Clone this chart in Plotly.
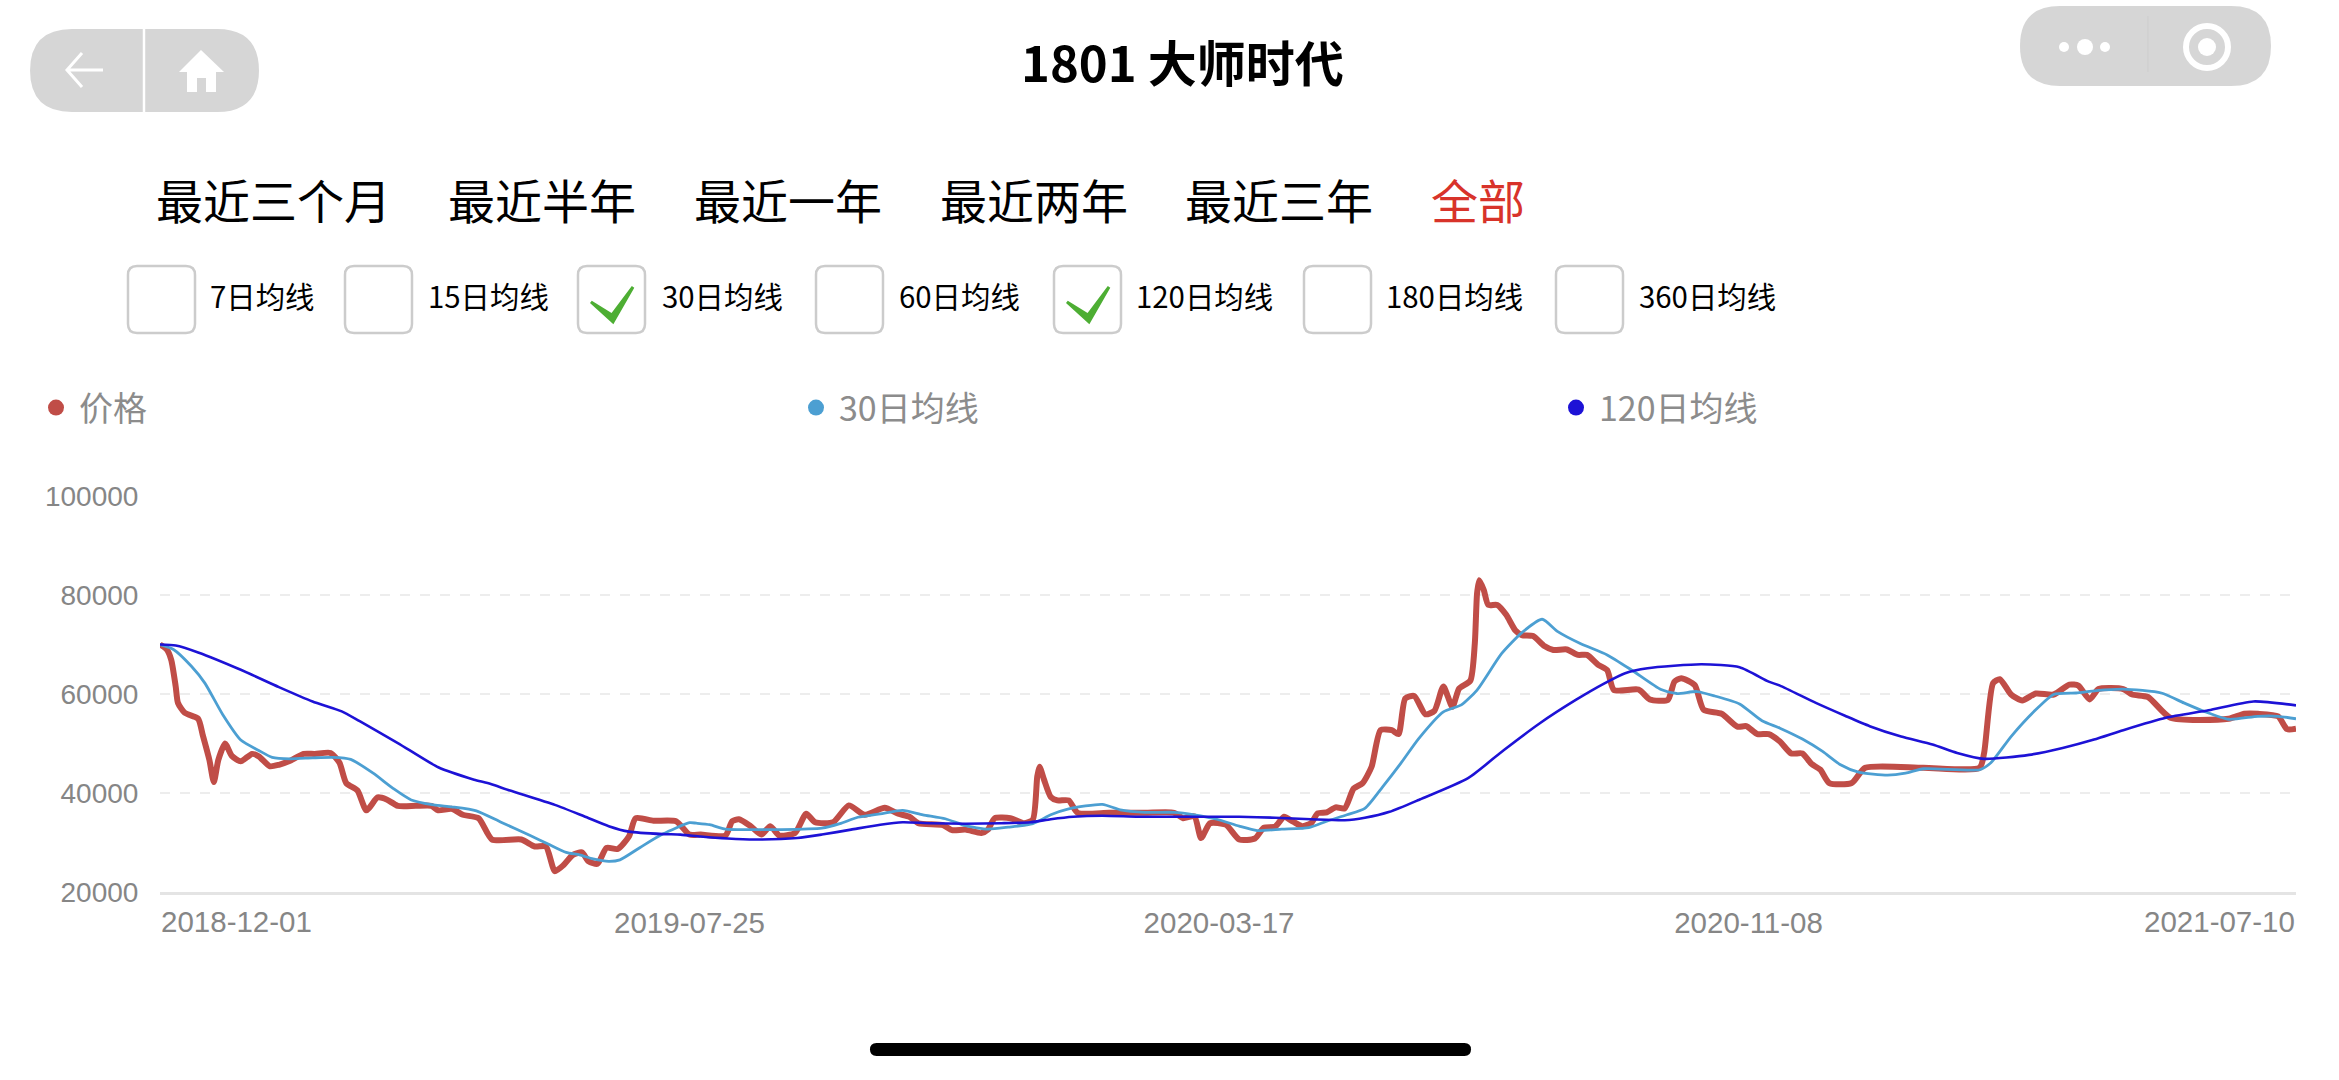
import pandas as pd
import plotly.graph_objects as go

W, H = 2339, 1080
START_DATE = "2018-12-01"
END_DATE = "2021-07-10"

price_days = [0,3,5,7,8,11,17,19,22,24,26,29,32,36,41,44,49,53,58,64,69,76,80,83,88,92,97,101,106,114,121,124,130,135,142,148,161,167,172,176,180,184,188,191,195,199,204,209,212,220,230,236,
 241,252,255,258,263,268,272,276,283,288,292,300,307,314,323,329,334,338,349,353,359,366,369,372,379,385,389,391,392,394,397,400,405,409,423,439,452,456,461,464,468,475,481,
 488,492,497,501,505,509,513,516,520,524,528,532,536,540,544,549,552,555,559,564,568,572,576,579,584,586,587,588,590,592,596,600,604,607,612,617,621,627,632,636,641,645,648,659,664,672,675,678,684,688,696,703,707,712,717,
 722,727,732,736,740,744,754,760,786,811,813,817,820,825,830,836,844,851,855,860,864,875,879,886,896,922,929,935,944,948,952]
price_values = [70000,69000,66900,61500,58200,56200,55000,51800,46700,42200,46700,50000,47500,46400,47900,47400,45400,45700,46500,47900,47900,48100,46100,42000,40500,36500,39100,38700,37400,37400,37400,36500,36800,35600,34900,30600,30600,29200,29200,24200,25500,27500,28000,26200,25700,28900,28700,31200,34900,34400,34300,31600,
 31600,31400,34300,34700,33400,31600,33300,31400,31900,35800,34100,34100,37500,35600,37000,35800,35200,33900,33500,32500,32600,31900,32600,34900,34900,33900,34600,43400,45300,42700,39200,38500,38500,36000,36000,36000,36000,34900,35300,30900,33900,33600,30600,
 30800,33000,33200,35200,34200,33300,33900,35900,36100,37100,36900,40900,42000,45300,52700,52700,51900,59100,59600,55900,56600,61500,57400,61100,62700,70200,80300,83000,81000,78000,78000,76000,72900,71900,71700,69700,68900,69000,67900,67900,65900,64800,60800,60900,58900,58800,62500,63200,61800,56800,56000,53400,53500,51900,51900,
 50400,48000,48000,45900,44700,42000,42000,45100,45100,45100,48100,62200,63000,59900,58700,60100,59900,61900,61700,58900,61000,61000,59900,59400,55200,55000,56000,56000,55500,52900,53000]

ma30_days = [0,6,14,20,28,36,44,50,58,68,77,85,95,104,112,122,130,141,152,165,173,181,187,193,200,205,214,224,236,
 239,245,252,264,276,295,303,311,321,331,340,350,359,369,378,389,397,405,420,428,439,452,461,471,481,
 489,500,512,520,529,537,545,553,561,572,580,587,598,607,616,623,633,645,656,669,676,685,693,704,714,
 722,732,741,749,757,770,778,786,811,816,825,836,844,854,863,875,892,902,911,922,935,944,952]
ma30_values = [70000,69000,65600,62200,55800,50700,48600,47200,46900,47100,47200,46800,44000,40900,38600,37600,37200,36400,34100,31400,29700,28000,27500,26700,26200,26500,29000,31700,34000,
 33900,33600,32700,32600,32600,32900,33800,35100,35800,36500,35600,34800,33400,32700,33100,33800,35600,36800,37700,36600,36100,36100,35600,34700,33300,
 32400,32700,33000,34300,35600,36900,41300,46000,51000,56400,57800,60800,68200,72400,75100,72600,70200,67900,64800,60900,60100,60500,59600,58000,54600,
 53100,50900,48400,45700,44200,43600,44000,44900,44700,46100,51400,56800,59900,60200,60700,61000,60200,58200,56500,54900,55500,55500,55000]

ma120_days = [0,7,17,36,53,68,81,89,106,124,140,146,156,176,189,200,209,224,232,
 241,253,265,284,295,308,321,331,343,359,375,388,397,407,420,436,452,463,481,
 497,513,528,537,548,561,583,599,615,631,644,653,663,687,704,717,
 722,738,751,762,776,790,801,813,833,848,862,875,894,913,933,952]
ma120_values = [70000,69800,68400,64900,61400,58500,56500,54500,50100,45200,42700,42000,40500,37600,35300,33300,32200,31700,31600,
 31200,30800,30600,30900,31600,32600,33600,34100,33900,33800,33900,34100,34700,35200,35400,35200,35200,35200,35200,
 35000,34700,34500,35000,36200,38600,43000,48700,54100,58800,62200,64200,65200,66000,65400,62500,
 61700,58200,55600,53500,51400,49800,48100,46900,47700,49100,50800,52700,55200,56700,58500,57700]

y_ticks = [20000, 40000, 60000, 80000, 100000]
x_tick_labels = ["2018-12-01", "2019-07-25", "2020-03-17", "2020-11-08", "2021-07-10"]
range_options = ["最近三个月", "最近半年", "最近一年", "最近两年", "最近三年", "全部"]
ma_options = ["7日均线", "15日均线", "30日均线", "60日均线", "120日均线", "180日均线", "360日均线"]
ma_checked = [False, False, True, False, True, False, False]
title_text = "1801 大师时代"

RED, BLUE, NAVY = "#C04D47", "#4C9FD2", "#1D12D6"
CJK = "Noto Sans CJK SC"
LATIN = "Liberation Sans"


def to_dates(days):
    return pd.Timestamp(START_DATE) + pd.to_timedelta(days, unit="D")


def px(x):
    return x / W


def py(y):
    return 1 - y / H


def path(*cmds):
    return " ".join(cmds)


def pt(x, y):
    return f"{px(x):.5f},{py(y):.5f}"


def round_rect(x0, y0, x1, y1, rx, ry=None):
    ry = rx if ry is None else ry
    return (f"M {pt(x0+rx,y0)} L {pt(x1-rx,y0)} Q {pt(x1,y0)} {pt(x1,y0+ry)} L {pt(x1,y1-ry)} "
            f"Q {pt(x1,y1)} {pt(x1-rx,y1)} L {pt(x0+rx,y1)} Q {pt(x0,y1)} {pt(x0,y1-ry)} "
            f"L {pt(x0,y0+ry)} Q {pt(x0,y0)} {pt(x0+rx,y0)} Z")


fig = go.Figure()
fig.add_trace(go.Scatter(x=to_dates(price_days), y=price_values, mode="lines", showlegend=False,
                         line=dict(color=RED, width=6, shape="spline", smoothing=0.6)))
fig.add_trace(go.Scatter(x=to_dates(ma30_days), y=ma30_values, mode="lines", showlegend=False,
                         line=dict(color=BLUE, width=2.8, shape="spline", smoothing=0.6)))
fig.add_trace(go.Scatter(x=to_dates(ma120_days), y=ma120_values, mode="lines", showlegend=False,
                         line=dict(color=NAVY, width=2.6, shape="spline", smoothing=0.6)))
for name, col in [("价格", RED), ("30日均线", BLUE), ("120日均线", NAVY)]:
    fig.add_trace(go.Scatter(x=[None], y=[None], mode="markers", name=name,
                             marker=dict(color=col, size=16)))

shapes = []
annotations = []


def shape_path(d, fill=None, line=None, width=0):
    shapes.append(dict(type="path", path=d, xref="paper", yref="paper",
                       fillcolor=fill if fill else "rgba(0,0,0,0)",
                       line=dict(color=line if line else "rgba(0,0,0,0)", width=width)))


def text(x, y, s, size, color="#000000", anchor="left", family=CJK, bold=False):
    annotations.append(dict(x=px(x), y=py(y), xref="paper", yref="paper", text=f"<b>{s}</b>" if bold else s,
                            showarrow=False, xanchor=anchor, yanchor="middle",
                            font=dict(size=size, color=color, family=family)))


def circle(cx, cy, r, fill=None, line=None, width=0):
    shapes.append(dict(type="circle", xref="paper", yref="paper", x0=px(cx-r), x1=px(cx+r),
                       y0=py(cy+r), y1=py(cy-r), fillcolor=fill if fill else "rgba(0,0,0,0)",
                       line=dict(color=line if line else "rgba(0,0,0,0)", width=width)))


# Phone header capsules
GREY = "#D6D6D6"
shape_path(round_rect(30, 29, 259, 112, 42), fill=GREY)
shape_path(path(f"M {pt(144,29)}", f"L {pt(144,112)}"), line="#FFFFFF", width=2.5)
shape_path(path(f"M {pt(103,70)}", f"L {pt(68,70)}", f"M {pt(82,53)}", f"L {pt(67,70)}", f"L {pt(82,87)}"),
           line="#FFFFFF", width=3)
shape_path(path(f"M {pt(201,50)}", f"L {pt(224,72)}", f"L {pt(216,72)}", f"L {pt(216,92)}", f"L {pt(206,92)}",
                f"L {pt(206,78)}", f"L {pt(197,78)}", f"L {pt(197,92)}", f"L {pt(187,92)}", f"L {pt(187,72)}",
                f"L {pt(179,72)}", "Z"), fill="#FFFFFF")
shape_path(round_rect(2020, 6, 2271, 86, 40), fill=GREY)
shape_path(path(f"M {pt(2148,16)}", f"L {pt(2148,72)}"), line="#CDCDCD", width=1)
circle(2064, 47, 5, fill="#FFFFFF")
circle(2085, 47, 8, fill="#FFFFFF")
circle(2105, 47, 5, fill="#FFFFFF")
circle(2207, 47, 21, line="#FFFFFF", width=6)
circle(2207, 47, 9, fill="#FFFFFF")

text(1182, 60, title_text, 49, bold=True, anchor="center")

# Range selector row
for label, x in zip(range_options, [154, 446, 692, 938, 1183, 1429]):
    text(x, 198, label, 47, color="#D8332A" if label == "全部" else "#000000")

# Moving-average checkboxes
box_lefts = [128, 345, 578, 816, 1054, 1304, 1556]
label_lefts = [208, 426, 660, 897, 1134, 1384, 1637]
for label, on, bx, lx in zip(ma_options, ma_checked, box_lefts, label_lefts):
    shape_path(round_rect(bx, 266, bx + 67, 333, 9), fill="#FFFFFF", line="#CCCCCC", width=2.5)
    if on:
        shape_path(path(f"M {pt(bx+13,302)}", f"L {pt(bx+34,315)}", f"L {pt(bx+55,287)}",
                        f"L {pt(bx+35,322)}", "Z"), fill="#4DAE33", line="#4DAE33", width=3)
    text(lx, 295, label, 29.4)

# Phone home indicator
shape_path(round_rect(870, 1043, 1471, 1056, 6.5), fill="#000000")

# First and last x labels sit inside the plot's edges
y_tick_font = dict(size=28, color="#868686", family=LATIN)
x_tick_font = dict(size=29.5, color="#868686", family=LATIN)
annotations.append(dict(x=START_DATE, y=py(921), xref="x", yref="paper", text=x_tick_labels[0], showarrow=False,
                        xanchor="left", yanchor="middle", xshift=-1, font=x_tick_font))
annotations.append(dict(x=END_DATE, y=py(921), xref="x", yref="paper", text=x_tick_labels[-1], showarrow=False,
                        xanchor="right", yanchor="middle", xshift=1, font=x_tick_font))

fig.update_layout(
    width=W, height=H, margin=dict(l=0, r=0, t=0, b=0, autoexpand=False),
    paper_bgcolor="#FFFFFF", plot_bgcolor="#FFFFFF",
    shapes=shapes, annotations=annotations,
    legend=dict(orientation="h", x=px(33), y=py(408), xanchor="left", yanchor="middle",
                entrywidth=709, entrywidthmode="pixels", itemsizing="trace", itemwidth=36,
                font=dict(size=34, color="#8C8C8C", family=CJK), bgcolor="rgba(0,0,0,0)"),
    xaxis=dict(domain=[px(160), px(2296)], type="date", range=[START_DATE, END_DATE],
               tickvals=x_tick_labels[1:-1], ticktext=x_tick_labels[1:-1], tickfont=x_tick_font,
               showgrid=False, zeroline=False, showline=True, linecolor="#E4E4E4", linewidth=3,
               ticks="outside", ticklen=3, tickcolor="rgba(0,0,0,0)"),
    yaxis=dict(domain=[py(892), py(496)], range=[20000, 100000], tickvals=y_ticks, tickfont=y_tick_font,
               showgrid=True, gridcolor="#EDEDED", gridwidth=2, griddash="10px,10px", zeroline=False,
               showline=False, ticks="outside", ticklen=15, tickcolor="rgba(0,0,0,0)", tickformat="d"),
)

fig.write_html("out.html", config=dict(displayModeBar=False),
               post_script="document.body.style.margin='0';document.documentElement.style.overflow='hidden';")
